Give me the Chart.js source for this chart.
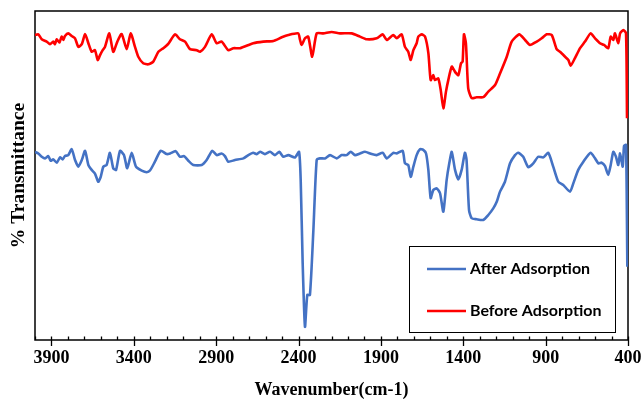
<!DOCTYPE html>
<html>
<head>
<meta charset="utf-8">
<title>FTIR spectra</title>
<script src="https://cdn.jsdelivr.net/npm/chart.js@4.4.1/dist/chart.umd.min.js"></script>
<style>
  body { margin: 0; background: #fff; }
  #wrap { width: 642px; height: 401px; }
</style>
</head>
<body>
<div id="wrap"><canvas id="graph" width="642" height="401"></canvas></div>
<script>
// Spectra: wavenumber (cm-1) against % transmittance
const beforeWavenumber = [4000,3980,3959,3929,3909,3889,3879,3868,3852,3838,
  3828,3818,3798,3777,3757,3737,3716,3696,3676,3656,
  3636,3619,3605,3589,3575,3549,3525,3500,3474,3443,
  3419,3393,3373,3343,3312,3282,3251,3221,3191,3150,
  3120,3089,3059,3018,2998,2968,2927,2897,2867,2827,
  2796,2755,2675,2614,2553,2502,2462,2402,2391,2381,
  2361,2341,2317,2290,2250,2199,2148,2077,2027,1986,
  1926,1889,1865,1825,1804,1774,1754,1734,1719,1703,
  1683,1673,1652,1632,1612,1598,1582,1572,1552,1537,
  1521,1505,1491,1470,1450,1430,1414,1404,1396,1384,
  1370,1349,1319,1279,1248,1207,1177,1136,1106,1060,
  1025,995,954,924,894,863,833,813,782,762,
  748,722,691,661,627,600,570,546,520,505,
  489,479,459,448,428,412,406];
const beforeTransmittance = [92.7,92.9,91.4,90.7,89.9,90.7,89.9,91.4,90.4,92.2,
  91.2,92.4,93.2,92.4,91.7,89.1,89.9,93.0,90.2,87.6,
  88.1,85.1,86.6,88.1,89.1,93.2,87.6,90.7,93.0,88.4,
  93.2,89.1,86.1,84.1,83.8,84.6,87.6,88.7,90.0,92.9,
  91.4,90.7,88.4,88.1,87.6,89.1,92.9,90.2,90.7,88.1,
  88.7,88.7,90.2,90.7,90.9,92.0,92.7,93.2,91.2,89.7,
  91.7,92.2,86.1,93.2,93.2,93.6,93.2,93.2,92.2,91.4,
  91.7,92.9,91.2,92.7,91.7,92.9,89.1,87.6,85.1,88.1,
  90.2,92.2,92.9,92.2,87.2,79.0,80.5,79.0,79.5,76.0,
  70.4,75.5,79.0,83.1,81.5,80.5,84.1,84.6,92.9,90.2,
  76.5,73.5,73.8,73.8,75.5,77.5,81.0,86.1,90.7,92.9,
  91.2,89.7,90.7,91.7,92.9,92.7,88.4,87.6,86.1,85.1,
  83.4,85.7,88.7,90.7,93.2,91.7,90.2,89.7,88.7,92.2,
  91.2,93.2,90.2,93.2,94.2,93.2,67.4];

const afterWavenumber = [4000,3980,3959,3939,3919,3905,3889,3868,3848,3832,
  3818,3798,3777,3757,3737,3716,3696,3676,3656,3636,
  3616,3601,3585,3565,3545,3525,3508,3484,3460,3440,
  3413,3387,3352,3322,3302,3272,3237,3200,3180,3146,
  3120,3095,3069,3039,2988,2958,2924,2897,2867,2847,
  2827,2786,2735,2705,2675,2654,2634,2604,2573,2543,
  2517,2493,2462,2422,2397,2387,2375,2361,2347,2331,
  2310,2290,2270,2240,2209,2168,2138,2108,2083,2057,
  2027,1997,1956,1926,1889,1865,1825,1804,1768,1754,
  1734,1719,1703,1683,1663,1643,1626,1612,1598,1582,
  1561,1541,1521,1501,1485,1470,1450,1430,1410,1390,
  1380,1365,1349,1319,1279,1248,1218,1197,1177,1147,
  1116,1086,1066,1036,1005,975,945,914,884,854,
  823,793,752,732,702,671,627,600,580,560,
  540,520,505,489,473,459,448,432,424,412,
  404];
const afterTransmittance = [57.2,56.7,55.7,55.2,55.9,54.5,54.9,53.9,55.5,54.9,
  55.9,56.2,58.0,54.7,52.7,54.7,57.5,53.2,51.7,50.6,
  48.1,49.6,52.7,53.2,56.9,52.2,51.7,57.5,56.2,52.2,
  56.9,52.7,51.5,51.0,51.5,54.2,57.5,56.5,56.7,57.4,
  55.7,55.9,54.5,53.2,53.2,54.7,57.5,56.2,56.7,55.9,
  54.2,54.7,55.2,56.2,56.9,56.5,57.2,56.5,57.2,56.2,
  57.2,55.7,56.2,55.5,57.2,48.6,23.3,4.0,13.7,13.7,
  33.4,54.7,55.2,55.2,56.2,55.2,56.2,56.2,57.2,56.2,
  56.7,57.2,56.5,56.2,56.9,55.2,56.9,56.7,57.5,53.7,
  53.2,49.6,52.7,56.2,58.0,57.8,56.7,51.7,43.1,45.6,
  46.1,44.6,39.0,48.6,53.7,57.2,51.7,48.8,51.7,56.9,
  54.7,39.5,37.0,36.7,36.5,38.0,40.0,42.0,45.1,48.1,
  53.7,56.2,56.9,55.7,52.5,53.7,55.7,55.5,56.9,52.7,
  48.1,47.1,45.1,47.6,51.7,54.2,56.9,55.2,53.7,53.9,
  52.9,50.2,53.2,57.2,55.7,53.2,56.7,52.7,59.0,59.3,
  22.3];

const xTickValues = [3900, 3400, 2900, 2400, 1900, 1400, 900, 400];
const seriesLabels = ['After Adsorption', 'Before Adsorption'];
const seriesColors = ['#4472C4', '#FF0000'];

function toPoints(xs, ys) {
    return xs.map((x, i) => ({ x: x, y: ys[i] }));
}

// box around the plot plus major / minor tick marks on the wavenumber axis
const frameAndTicks = {
    id: 'frameAndTicks',
    beforeDatasetsDraw(chart) {
        const ctx = chart.ctx;
        const a = chart.chartArea;
        const xs = chart.scales.x;
        ctx.save();
        ctx.strokeStyle = '#000';
        ctx.lineWidth = 1.5;
        ctx.strokeRect(a.left, a.top, a.right - a.left, a.bottom - a.top);
        ctx.lineWidth = 1.3;
        for (let v = 400; v <= 4000; v += 100) {
            const px = Math.round(xs.getPixelForValue(v)) + 0.5;
            const major = (v - 400) % 500 === 0;
            ctx.beginPath();
            ctx.moveTo(px, a.bottom - 3.5);
            ctx.lineTo(px, a.bottom + (major ? 6 : 0));
            ctx.stroke();
        }
        ctx.restore();
    }
};

// legend box sitting inside the lower right of the plot
const boxLegend = {
    id: 'boxLegend',
    afterDraw(chart, args, opts) {
        const ctx = chart.ctx;
        ctx.save();
        ctx.fillStyle = '#fff';
        ctx.fillRect(opts.left, opts.top, opts.width, opts.height);
        ctx.strokeStyle = '#000';
        ctx.lineWidth = 1;
        ctx.strokeRect(opts.left + 0.5, opts.top + 0.5, opts.width, opts.height);
        ctx.font = 'bold 16px Lato, "Open Sans", sans-serif';
        ctx.textBaseline = 'alphabetic';
        ctx.textAlign = 'left';
        chart.data.datasets.forEach((ds, i) => {
            const y = opts.top + opts.rowStart + i * opts.rowGap;
            ctx.strokeStyle = ds.borderColor;
            ctx.lineWidth = 2.5;
            ctx.beginPath();
            ctx.moveTo(opts.left + 18, y);
            ctx.lineTo(opts.left + 57, y);
            ctx.stroke();
            ctx.fillStyle = '#000';
            ctx.fillText(ds.label, opts.left + 61, y + 4.5);
        });
        ctx.restore();
    }
};

const serifBold = { family: '"Liberation Serif", "Times New Roman", serif', size: 18, weight: 'bold' };

const ctx = document.getElementById('graph').getContext('2d');
new Chart(ctx, {
    type: 'line',
    data: {
        datasets: [{
            label: seriesLabels[0],
            data: toPoints(afterWavenumber, afterTransmittance),
            borderColor: seriesColors[0],
            borderWidth: 2.6,
            pointRadius: 0,
            tension: 0.2,
            fill: false
        }, {
            label: seriesLabels[1],
            data: toPoints(beforeWavenumber, beforeTransmittance),
            borderColor: seriesColors[1],
            borderWidth: 2.6,
            pointRadius: 0,
            tension: 0.2,
            fill: false
        }]
    },
    options: {
        responsive: false,
        animation: false,
        devicePixelRatio: 1,
        layout: { padding: { top: 11, right: 14, left: 0, bottom: 0 } },
        plugins: {
            legend: { display: false },
            tooltip: { enabled: false },
            boxLegend: { left: 409, top: 246, width: 206, height: 86, rowStart: 23, rowGap: 42 }
        },
        scales: {
            x: {
                type: 'linear',
                reverse: true,
                min: 400,
                max: 4000,
                afterBuildTicks: function(scale) {
                    scale.ticks = xTickValues.map(v => ({ value: v }));
                },
                afterFit: function(scale) {
                    scale.height = 61;
                    scale.paddingLeft = 0;
                    scale.paddingRight = 0;
                },
                grid: { display: false, drawTicks: false },
                border: { display: false },
                ticks: {
                    autoSkip: false,
                    maxRotation: 0,
                    padding: 8,
                    color: '#000',
                    font: serifBold,
                    callback: function(value) { return String(value); }
                },
                title: {
                    display: true,
                    text: 'Wavenumber(cm-1)',
                    color: '#000',
                    padding: { top: 0, bottom: 0 },
                    font: serifBold
                }
            },
            y: {
                min: 0,
                max: 100,
                afterFit: function(scale) { scale.width = 35; },
                grid: { display: false, drawTicks: false },
                border: { display: false },
                ticks: { display: false },
                title: {
                    display: true,
                    text: '% Transmittance',
                    color: '#000',
                    padding: { top: 7.6, bottom: 0 },
                    font: { family: serifBold.family, size: 19.5, weight: 'bold' }
                }
            }
        }
    },
    plugins: [frameAndTicks, boxLegend]
});
</script>
</body>
</html>
